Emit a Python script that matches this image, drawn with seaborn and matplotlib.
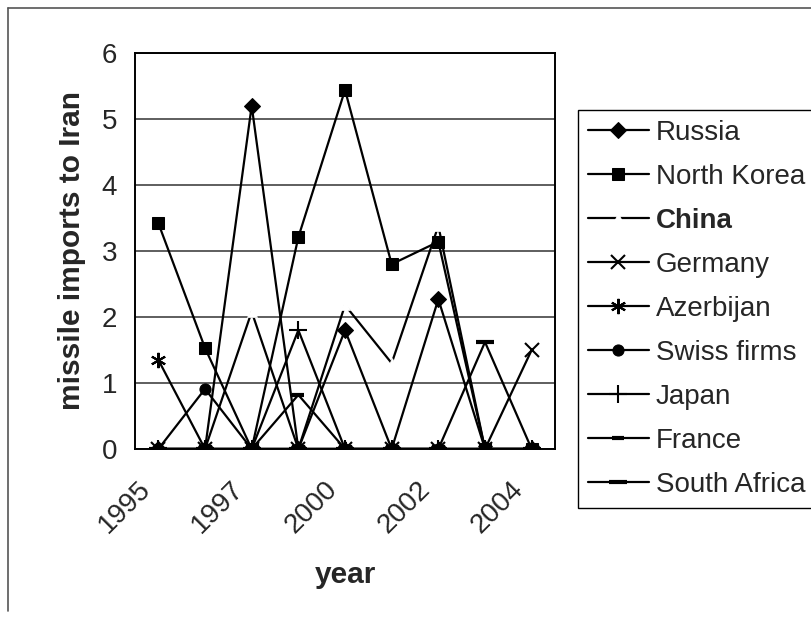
import matplotlib
matplotlib.use("Agg")
import matplotlib.pyplot as plt
import matplotlib.transforms as mtransforms
import seaborn as sns
from matplotlib.lines import Line2D

# categories on the x axis (only every other one is labelled)
years = ["1995", "1996", "1997", "1998", "2000", "2001", "2002", "2003", "2004"]
shown_years = ["1995", "1997", "2000", "2002", "2004"]

russia = [0, 0, 5.2, 0, 1.8, 0, 2.27, 0, 0]
north_korea = [3.42, 1.53, 0, 3.21, 5.44, 2.8, 3.14, 0, 0]
china = [0, 0, 2.08, 0, 2.18, 1.3, 3.38, 0, 0]
germany = [0, 0, 0, 0, 0, 0, 0, 0, 1.5]
azerbijan = [1.35, 0, 0, 0, 0, 0, 0, 0, 0]
swiss_firms = [0, 0.91, 0, 0, 0, 0, 0, 0, 0]
japan = [0, 0, 0, 1.8, 0, 0, 0, 0, 0]
france = [0, 0, 0, 0.82, 0, 0, 0, 0, 0]
south_africa = [0, 0, 0, 0, 0, 0, 0, 1.62, 0]

sns.set_style("white")
plt.rcParams["font.family"] = ["Liberation Sans", "DejaVu Sans"]

FS = 20

fig = plt.figure(figsize=(8.12, 6.17), dpi=100)
ax = fig.add_axes([0.1663, 0.2723, 0.5172, 0.6418])

pos = list(range(len(years)))
series = [
    ("Russia", russia, dict(marker="D", ms=8)),
    ("North Korea", north_korea, dict(marker="s", ms=9)),
    ("China", china, dict(marker="^", ms=7, mfc="white", mec="white", mew=0.5)),
    ("Germany", germany, dict(marker="x", ms=10, mew=1.5)),
    ("Azerbijan", azerbijan, dict(marker=(6, 2, 0), ms=11, mew=1.5)),
    ("Swiss firms", swiss_firms, dict(marker="o", ms=8)),
    ("Japan", japan, dict(marker="+", ms=13, mew=1.5)),
    ("France", france, dict(marker="_", ms=8, mew=3)),
    ("South Africa", south_africa, dict(marker="_", ms=13, mew=3)),
]

for name, vals, style in series:
    style.setdefault("mec", "black")
    style.setdefault("mfc", "black")
    sns.lineplot(x=pos, y=vals, ax=ax, color="black", linewidth=1.6,
                 label=name, **style)

ax.set_xlim(-0.5, len(years) - 0.5)
ax.set_ylim(0, 6)
ax.set_yticks(range(0, 7))
ax.yaxis.grid(True, color="#333333", linewidth=1.1)
for s in ax.spines.values():
    s.set_color("black")
    s.set_linewidth(1.4)

# tick marks between categories, labels on every other year
ax.set_xticks([p - 0.5 for p in range(len(years) + 1)])
ax.set_xticklabels([])
ax.tick_params(axis="x", which="major", direction="out", length=5, width=1, color="black")
ax.set_xticks([years.index(y) for y in shown_years], minor=True)
ax.set_xticklabels(shown_years, minor=True, rotation=45, ha="right", va="bottom",
                   rotation_mode="anchor", fontsize=FS)
ax.tick_params(axis="x", which="minor", length=0, pad=33)
shift = mtransforms.ScaledTranslation(-2 / 72, 0, fig.dpi_scale_trans)
for lbl in ax.get_xticklabels(minor=True):
    lbl.set_transform(lbl.get_transform() + shift)
ax.tick_params(axis="y", direction="out", length=7, width=1, color="black",
               labelsize=FS, pad=6)

ax.set_xlabel("year", fontsize=21.5, fontweight="bold", labelpad=16)
ax.set_ylabel("missile imports to Iran", fontsize=21.5, fontweight="bold", labelpad=11)

leg = ax.legend(loc="upper left", bbox_to_anchor=(0.712, 0.8217),
                bbox_transform=fig.transFigure, fontsize=FS, frameon=True,
                fancybox=False, framealpha=1, edgecolor="black",
                handlelength=2.2, handletextpad=0.25, labelspacing=0.65,
                borderpad=0.35, borderaxespad=0)
leg.get_frame().set_linewidth(1.0)
for t in leg.get_texts():
    if t.get_text() == "China":
        t.set_fontweight("bold")

# outer chart border
fig.add_artist(Line2D([0.01, 0.01], [0.01, 0.987], transform=fig.transFigure,
                      color="#555555", linewidth=1.2))
fig.add_artist(Line2D([0.01, 1.0], [0.987, 0.987], transform=fig.transFigure,
                      color="#555555", linewidth=1.2))

fig.savefig("out.png", dpi=100)
